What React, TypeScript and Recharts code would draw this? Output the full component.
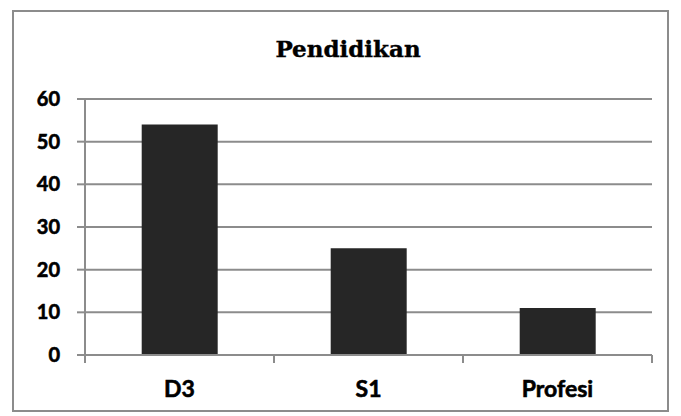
import React from 'react';
import { BarChart, Bar, XAxis, YAxis, CartesianGrid } from 'recharts';

const categories = ['D3', 'S1', 'Profesi'];
const values = [54, 25, 11];
const yTicks = [0, 10, 20, 30, 40, 50, 60];

const data = categories.map((name, i) => ({ name, value: values[i] }));

const W = 681;
const H = 416;
const margin = { top: 99, right: 29, left: 0, bottom: 21 };
const yWidth = 85;
const step = (W - yWidth - margin.right) / categories.length;

const labelFont = 'Lato, "Open Sans", sans-serif';

const CategoryTick = (props: any) => {
  const { x, y, payload, index } = props;
  const half = step / 2;
  return (
    <g>
      <line x1={x - half} y1={y} x2={x - half} y2={y + 8} stroke="#8c8c8c" strokeWidth={2} />
      {index === categories.length - 1 && (
        <line x1={x + half} y1={y} x2={x + half} y2={y + 8} stroke="#8c8c8c" strokeWidth={2} />
      )}
      <text
        x={x}
        y={y + 42}
        textAnchor="middle"
        fontFamily={labelFont}
        fontWeight={700}
        fontSize={23}
        fill="#000"
        stroke="#000"
        strokeWidth={0.6}
      >
        {payload.value}
      </text>
    </g>
  );
};

const App = () => {
  return (
    <div style={{ position: 'absolute', left: 0, top: 0, width: W, height: H, background: '#fff' }}>
      <div
        style={{
          position: 'absolute',
          left: 12,
          top: 10,
          width: 653,
          height: 398,
          border: '2px solid #8c8c8c',
        }}
      />
      <svg style={{ position: 'absolute', left: 0, top: 0 }} width={W} height={H}>
        <text
          x={348}
          y={57}
          textAnchor="middle"
          fontFamily='"DejaVu Serif", "Liberation Serif", serif'
          fontWeight={700}
          fontSize={23}
          fill="#000"
          stroke="#000"
          strokeWidth={0.4}
        >
          Pendidikan
        </text>
      </svg>
      <div style={{ position: 'absolute', left: 0, top: 0 }}>
        <BarChart width={W} height={H} data={data} margin={margin} barCategoryGap="30%">
          <CartesianGrid vertical={false} stroke="#8c8c8c" strokeWidth={2} />
          <XAxis
            dataKey="name"
            height={40}
            axisLine={{ stroke: '#8c8c8c', strokeWidth: 2 }}
            tickLine={false}
            tickSize={0}
            tickMargin={0}
            tick={<CategoryTick />}
            interval={0}
          />
          <YAxis
            width={yWidth}
            domain={[0, 60]}
            ticks={yTicks}
            interval={0}
            axisLine={{ stroke: '#8c8c8c', strokeWidth: 2 }}
            tickLine={{ stroke: '#8c8c8c', strokeWidth: 2 }}
            tickSize={8}
            tickMargin={17}
            tick={{ fontFamily: labelFont, fontWeight: 700, fontSize: 20, fill: '#000', stroke: '#000', strokeWidth: 0.6 }}
          />
          <Bar dataKey="value" fill="#262626" isAnimationActive={false} />
        </BarChart>
      </div>
    </div>
  );
};

export default App;
